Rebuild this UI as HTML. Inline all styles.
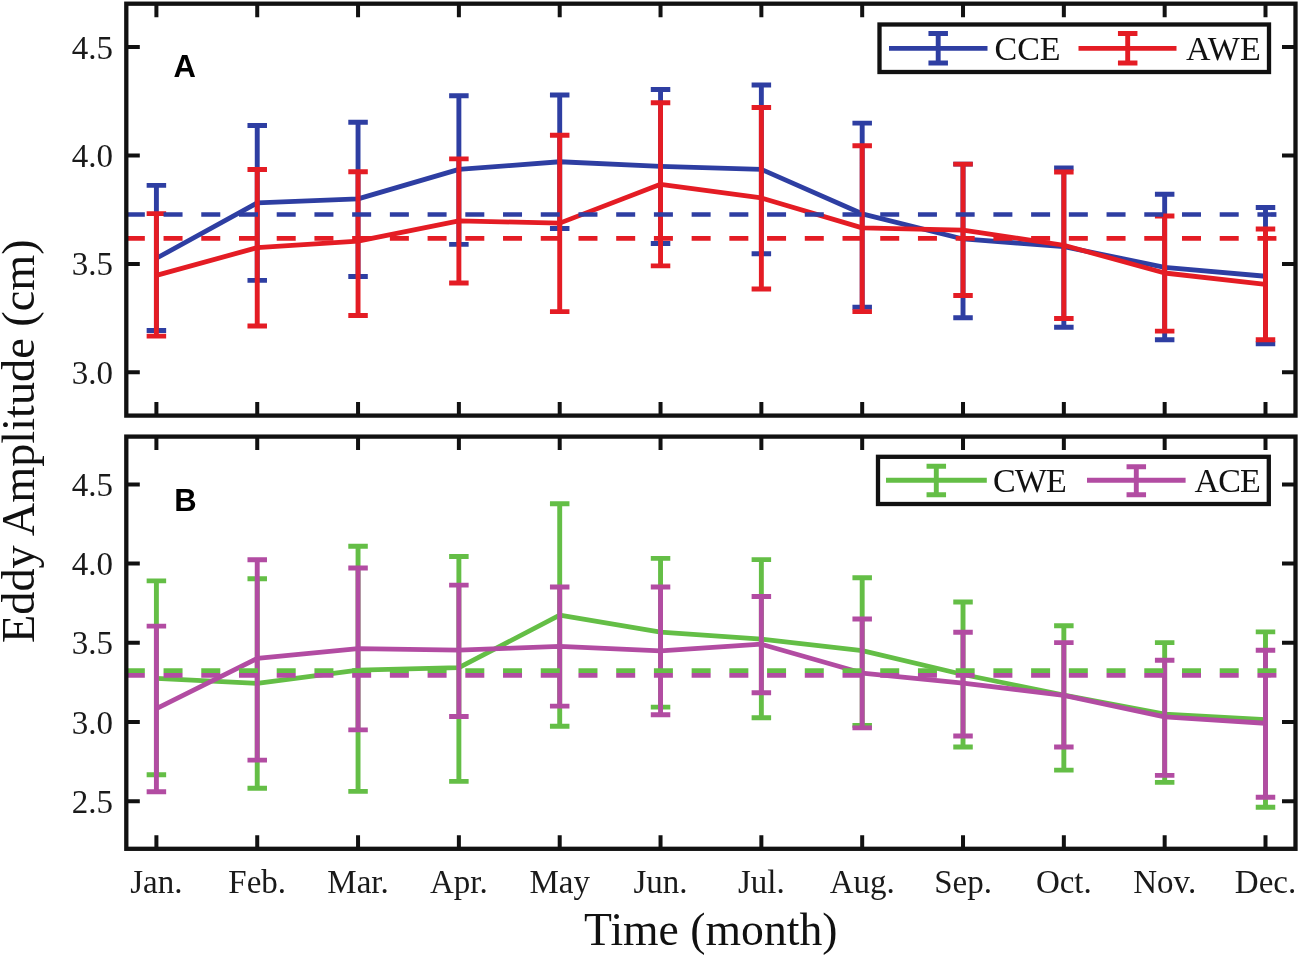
<!DOCTYPE html>
<html><head><meta charset="utf-8"><title>Eddy Amplitude</title>
<style>
html,body{margin:0;padding:0;background:#fff;}
svg{display:block;filter:blur(0.45px);}
.tk{font-family:"Liberation Serif",serif;font-size:33px;fill:#1a1a1a;}
.lg{font-family:"Liberation Serif",serif;font-size:34px;fill:#111;}
.al{font-family:"Liberation Serif",serif;font-size:46.3px;fill:#111;}
.pl{font-family:"Liberation Sans",sans-serif;font-weight:bold;font-size:31px;fill:#000;}
</style></head>
<body>
<svg width="1299" height="956" viewBox="0 0 1299 956">
<rect width="1299" height="956" fill="#fff"/>
<path d="M156.40 185.38V330.49M146.65 185.38h19.5M146.65 330.49h19.5M257.23 125.52V280.38M247.48 125.52h19.5M247.48 280.38h19.5M358.05 122.26V276.48M348.30 122.26h19.5M348.30 276.48h19.5M458.88 95.80V244.38M449.13 95.80h19.5M449.13 244.38h19.5M559.71 94.93V228.55M549.96 94.93h19.5M549.96 228.55h19.5M660.54 89.51V243.51M650.79 89.51h19.5M650.79 243.51h19.5M761.36 84.96V253.71M751.61 84.96h19.5M751.61 253.71h19.5M862.19 123.13V307.28M852.44 123.13h19.5M852.44 307.28h19.5M963.02 164.13V317.69M953.27 164.13h19.5M953.27 317.69h19.5M1063.85 168.03V327.23M1054.10 168.03h19.5M1054.10 327.23h19.5M1164.67 194.28V339.82M1154.92 194.28h19.5M1154.92 339.82h19.5M1265.50 207.51V343.72M1255.75 207.51h19.5M1255.75 343.72h19.5" stroke="rgb(46,62,162)" stroke-width="4.9" fill="none"/>
<polyline points="156.40,258.26 257.23,202.95 358.05,198.83 458.88,169.33 559.71,161.74 660.54,166.29 761.36,169.33 862.19,213.80 963.02,238.96 1063.85,246.55 1164.67,267.37 1265.50,276.26" stroke="rgb(46,62,162)" stroke-width="4.8" fill="none" stroke-linejoin="round"/>
<path d="M156.40 213.58V336.13M146.65 213.58h19.5M146.65 336.13h19.5M257.23 169.55V325.93M247.48 169.55h19.5M247.48 325.93h19.5M358.05 171.72V315.52M348.30 171.72h19.5M348.30 315.52h19.5M458.88 158.92V282.99M449.13 158.92h19.5M449.13 282.99h19.5M559.71 135.28V311.62M549.96 135.28h19.5M549.96 311.62h19.5M660.54 102.74V265.85M650.79 102.74h19.5M650.79 265.85h19.5M761.36 107.52V289.06M751.61 107.52h19.5M751.61 289.06h19.5M862.19 145.69V311.62M852.44 145.69h19.5M852.44 311.62h19.5M963.02 164.13V295.57M953.27 164.13h19.5M953.27 295.57h19.5M1063.85 171.93V318.56M1054.10 171.93h19.5M1054.10 318.56h19.5M1164.67 215.97V331.14M1154.92 215.97h19.5M1154.92 331.14h19.5M1265.50 228.98V339.82M1255.75 228.98h19.5M1255.75 339.82h19.5" stroke="rgb(228,28,36)" stroke-width="4.9" fill="none"/>
<polyline points="156.40,275.40 257.23,247.63 358.05,241.13 458.88,220.95 559.71,223.12 660.54,184.30 761.36,197.96 862.19,227.89 963.02,230.06 1063.85,245.25 1164.67,273.01 1265.50,284.29" stroke="rgb(228,28,36)" stroke-width="4.8" fill="none" stroke-linejoin="round"/>
<line x1="125.83" y1="214.50" x2="1295" y2="214.50" stroke="rgb(46,62,162)" stroke-width="4.7" stroke-dasharray="19 18.72"/>
<line x1="125.83" y1="238.40" x2="1295" y2="238.40" stroke="rgb(228,28,36)" stroke-width="4.7" stroke-dasharray="19 18.72"/>
<path d="M156.40 3.70v13.5M156.40 415.60v-13.5M257.23 3.70v13.5M257.23 415.60v-13.5M358.05 3.70v13.5M358.05 415.60v-13.5M458.88 3.70v13.5M458.88 415.60v-13.5M559.71 3.70v13.5M559.71 415.60v-13.5M660.54 3.70v13.5M660.54 415.60v-13.5M761.36 3.70v13.5M761.36 415.60v-13.5M862.19 3.70v13.5M862.19 415.60v-13.5M963.02 3.70v13.5M963.02 415.60v-13.5M1063.85 3.70v13.5M1063.85 415.60v-13.5M1164.67 3.70v13.5M1164.67 415.60v-13.5M1265.50 3.70v13.5M1265.50 415.60v-13.5M126.30 372.35h13.5M1295.50 372.35h-13.5M126.30 263.90h13.5M1295.50 263.90h-13.5M126.30 155.45h13.5M1295.50 155.45h-13.5M126.30 47.00h13.5M1295.50 47.00h-13.5" stroke="#111" stroke-width="4" fill="none"/>
<rect x="126.30" y="3.70" width="1169.20" height="411.90" stroke="#111" stroke-width="4.3" fill="none"/>
<text x="113" y="383.85" text-anchor="end" class="tk">3.0</text>
<text x="113" y="275.40" text-anchor="end" class="tk">3.5</text>
<text x="113" y="166.95" text-anchor="end" class="tk">4.0</text>
<text x="113" y="58.50" text-anchor="end" class="tk">4.5</text>
<rect x="879.50" y="24.50" width="389.50" height="47.50" stroke="#111" stroke-width="4.3" fill="#fff"/>
<path d="M889.00 48.40H987.50M938.20 33.50V63.00M928.45 33.50h19.5M928.45 63.00h19.5" stroke="rgb(46,62,162)" stroke-width="4.9" fill="none"/>
<text x="994.50" y="59.90" class="lg">CCE</text>
<path d="M1078.50 48.40H1176.50M1127.70 33.50V63.00M1117.95 33.50h19.5M1117.95 63.00h19.5" stroke="rgb(228,28,36)" stroke-width="4.9" fill="none"/>
<text x="1186.00" y="59.90" class="lg">AWE</text>
<text x="173.6" y="77.3" class="pl">A</text>
<path d="M156.40 580.87V774.75M146.65 580.87h19.5M146.65 774.75h19.5M257.23 578.81V788.21M247.48 578.81h19.5M247.48 788.21h19.5M358.05 546.18V791.38M348.30 546.18h19.5M348.30 791.38h19.5M458.88 556.47V781.40M449.13 556.47h19.5M449.13 781.40h19.5M559.71 503.72V726.28M549.96 503.72h19.5M549.96 726.28h19.5M660.54 558.37V707.11M650.79 558.37h19.5M650.79 707.11h19.5M761.36 559.64V717.72M751.61 559.64h19.5M751.61 717.72h19.5M862.19 577.70V725.33M852.44 577.70h19.5M852.44 725.33h19.5M963.02 601.93V747.03M953.27 601.93h19.5M953.27 747.03h19.5M1063.85 625.69V770.15M1054.10 625.69h19.5M1054.10 770.15h19.5M1164.67 642.64V782.35M1154.92 642.64h19.5M1154.92 782.35h19.5M1265.50 631.87V807.22M1255.75 631.87h19.5M1255.75 807.22h19.5" stroke="rgb(100,190,70)" stroke-width="4.9" fill="none"/>
<polyline points="156.40,678.44 257.23,683.35 358.05,670.04 458.88,667.67 559.71,615.08 660.54,632.03 761.36,639.16 862.19,650.56 963.02,674.48 1063.85,695.07 1164.67,714.08 1265.50,719.62" stroke="rgb(100,190,70)" stroke-width="4.8" fill="none" stroke-linejoin="round"/>
<path d="M156.40 626.17V791.70M146.65 626.17h19.5M146.65 791.70h19.5M257.23 559.80V760.17M247.48 559.80h19.5M247.48 760.17h19.5M358.05 568.04V729.92M348.30 568.04h19.5M348.30 729.92h19.5M458.88 585.14V716.46M449.13 585.14h19.5M449.13 716.46h19.5M559.71 587.04V706.16M549.96 587.04h19.5M549.96 706.16h19.5M660.54 587.04V714.71M650.79 587.04h19.5M650.79 714.71h19.5M761.36 596.55V692.70M751.61 596.55h19.5M751.61 692.70h19.5M862.19 619.04V727.86M852.44 619.04h19.5M852.44 727.86h19.5M963.02 632.19V735.94M953.27 632.19h19.5M953.27 735.94h19.5M1063.85 642.64V747.03M1054.10 642.64h19.5M1054.10 747.03h19.5M1164.67 660.22V775.38M1154.92 660.22h19.5M1154.92 775.38h19.5M1265.50 650.24V797.24M1255.75 650.24h19.5M1255.75 797.24h19.5" stroke="rgb(178,76,162)" stroke-width="4.9" fill="none"/>
<polyline points="156.40,708.69 257.23,658.48 358.05,648.66 458.88,650.09 559.71,646.28 660.54,650.88 761.36,644.23 862.19,673.05 963.02,683.03 1063.85,695.39 1164.67,716.93 1265.50,723.27" stroke="rgb(178,76,162)" stroke-width="4.8" fill="none" stroke-linejoin="round"/>
<line x1="125.83" y1="670.60" x2="1295" y2="670.60" stroke="rgb(100,190,70)" stroke-width="4.7" stroke-dasharray="19 18.72"/>
<line x1="125.83" y1="675.30" x2="1295" y2="675.30" stroke="rgb(178,76,162)" stroke-width="4.7" stroke-dasharray="19 18.72"/>
<path d="M156.40 436.60v13.5M156.40 848.80v-13.5M257.23 436.60v13.5M257.23 848.80v-13.5M358.05 436.60v13.5M358.05 848.80v-13.5M458.88 436.60v13.5M458.88 848.80v-13.5M559.71 436.60v13.5M559.71 848.80v-13.5M660.54 436.60v13.5M660.54 848.80v-13.5M761.36 436.60v13.5M761.36 848.80v-13.5M862.19 436.60v13.5M862.19 848.80v-13.5M963.02 436.60v13.5M963.02 848.80v-13.5M1063.85 436.60v13.5M1063.85 848.80v-13.5M1164.67 436.60v13.5M1164.67 848.80v-13.5M1265.50 436.60v13.5M1265.50 848.80v-13.5M126.30 801.20h13.5M1295.50 801.20h-13.5M126.30 722.00h13.5M1295.50 722.00h-13.5M126.30 642.80h13.5M1295.50 642.80h-13.5M126.30 563.60h13.5M1295.50 563.60h-13.5M126.30 484.40h13.5M1295.50 484.40h-13.5" stroke="#111" stroke-width="4" fill="none"/>
<rect x="126.30" y="436.60" width="1169.20" height="412.20" stroke="#111" stroke-width="4.3" fill="none"/>
<text x="113" y="812.70" text-anchor="end" class="tk">2.5</text>
<text x="113" y="733.50" text-anchor="end" class="tk">3.0</text>
<text x="113" y="654.30" text-anchor="end" class="tk">3.5</text>
<text x="113" y="575.10" text-anchor="end" class="tk">4.0</text>
<text x="113" y="495.90" text-anchor="end" class="tk">4.5</text>
<rect x="878.00" y="456.80" width="390.80" height="47.20" stroke="#111" stroke-width="4.3" fill="#fff"/>
<path d="M886.00 480.20H986.80M936.30 466.30V494.70M926.55 466.30h19.5M926.55 494.70h19.5" stroke="rgb(100,190,70)" stroke-width="4.9" fill="none"/>
<text x="993.00" y="491.70" class="lg" letter-spacing="-0.9">CWE</text>
<path d="M1087.00 480.20H1185.60M1136.30 466.80V494.70M1126.55 466.80h19.5M1126.55 494.70h19.5" stroke="rgb(178,76,162)" stroke-width="4.9" fill="none"/>
<text x="1194.50" y="491.70" class="lg" letter-spacing="-0.9">ACE</text>
<text x="174.3" y="510.6" class="pl">B</text>
<text x="156.40" y="892.5" text-anchor="middle" class="tk">Jan.</text>
<text x="257.23" y="892.5" text-anchor="middle" class="tk">Feb.</text>
<text x="358.05" y="892.5" text-anchor="middle" class="tk">Mar.</text>
<text x="458.88" y="892.5" text-anchor="middle" class="tk">Apr.</text>
<text x="559.71" y="892.5" text-anchor="middle" class="tk">May</text>
<text x="660.54" y="892.5" text-anchor="middle" class="tk">Jun.</text>
<text x="761.36" y="892.5" text-anchor="middle" class="tk">Jul.</text>
<text x="862.19" y="892.5" text-anchor="middle" class="tk">Aug.</text>
<text x="963.02" y="892.5" text-anchor="middle" class="tk">Sep.</text>
<text x="1063.85" y="892.5" text-anchor="middle" class="tk">Oct.</text>
<text x="1164.67" y="892.5" text-anchor="middle" class="tk">Nov.</text>
<text x="1265.50" y="892.5" text-anchor="middle" class="tk">Dec.</text>
<text x="710.8" y="945" text-anchor="middle" class="al" style="font-size:45.7px">Time (month)</text>
<text transform="translate(34 643) rotate(-90)" x="0" y="0" class="al">Eddy Amplitude (cm)</text>
</svg>
</body></html>
